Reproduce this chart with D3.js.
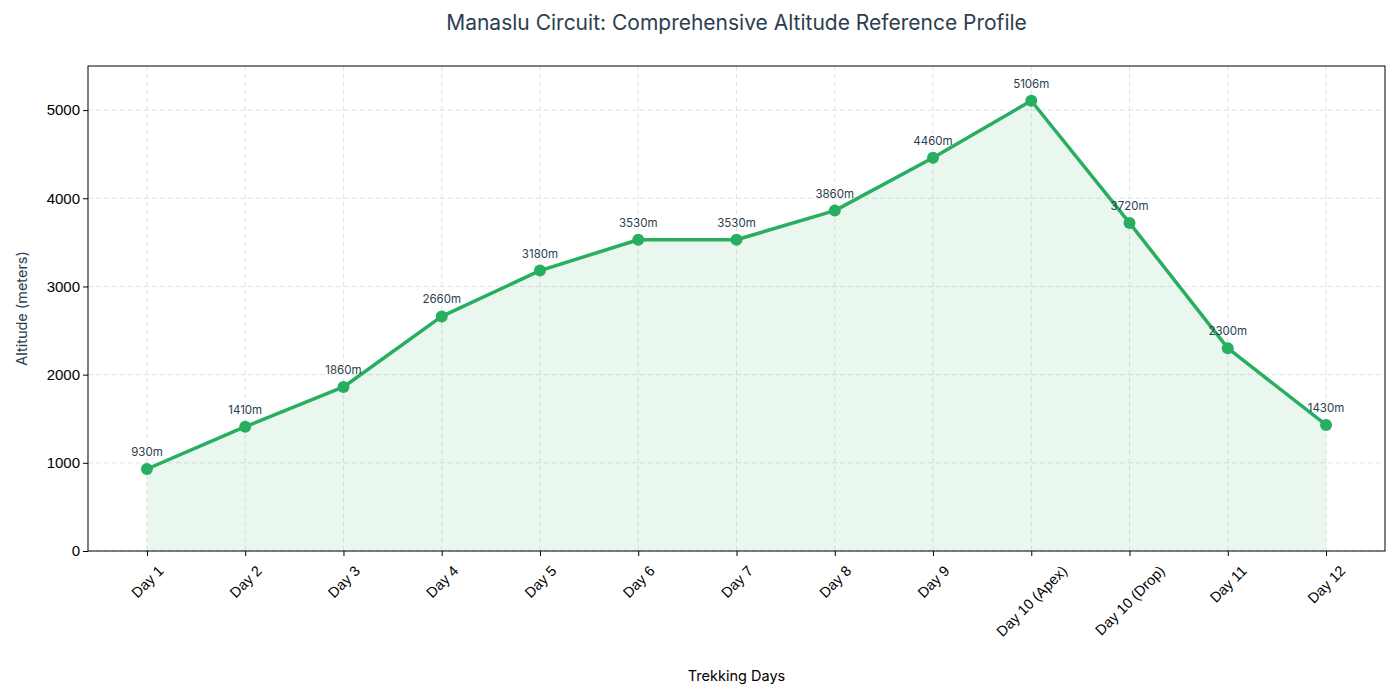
<!DOCTYPE html>
<html>
<head>
<meta charset="utf-8">
<script src="https://cdn.jsdelivr.net/npm/d3@7"></script>
<style>
  body { margin: 0; background: #fff; }
  svg { font-family: Inter, "Noto Sans", sans-serif; }
</style>
</head>
<body>
<div id="chart"></div>
<script>
const days = ["Day 1", "Day 2", "Day 3", "Day 4", "Day 5", "Day 6", "Day 7", "Day 8", "Day 9",
    "Day 10 (Apex)", "Day 10 (Drop)", "Day 11", "Day 12"];
const altitudes = [930, 1410, 1860, 2660, 3180, 3530, 3530, 3860, 4460, 5106, 3720, 2300, 1430];
const yTicks = [0, 1000, 2000, 3000, 4000, 5000];

const width = 1400, height = 700;
const margin = { top: 66, right: 15, bottom: 149, left: 88 };
const boundedWidth = width - margin.left - margin.right;
const boundedHeight = height - margin.top - margin.bottom;

const data = days.map((d, i) => ({ day: d, alt: altitudes[i] }));

const svg = d3.select('#chart').append('svg')
    .attr('width', width)
    .attr('height', height);

const viz = svg.append('g')
    .attr('transform', `translate(${margin.left},${margin.top})`);

const xScale = d3.scalePoint().domain(days).range([0, boundedWidth]).padding(0.6);
const yScale = d3.scaleLinear().domain([0, 5500]).range([boundedHeight, 0]);

// grid
viz.append('g').selectAll('line.vg')
    .data(days)
    .join('line')
    .attr('x1', d => xScale(d)).attr('x2', d => xScale(d))
    .attr('y1', 0).attr('y2', boundedHeight)
    .attr('stroke', '#dcdcdc').attr('stroke-dasharray', '5,3').attr('stroke-width', 0.8);
viz.append('g').selectAll('line.hg')
    .data(yTicks)
    .join('line')
    .attr('x1', 0).attr('x2', boundedWidth)
    .attr('y1', d => yScale(d)).attr('y2', d => yScale(d))
    .attr('stroke', '#dcdcdc').attr('stroke-dasharray', '5,3').attr('stroke-width', 0.8);

// area fill
const area = d3.area()
    .x(d => xScale(d.day))
    .y0(yScale(0))
    .y1(d => yScale(d.alt));
viz.append('path')
    .datum(data)
    .attr('d', area)
    .attr('fill', '#27ae60')
    .attr('fill-opacity', 0.1);

// line
const line = d3.line()
    .x(d => xScale(d.day))
    .y(d => yScale(d.alt));
viz.append('path')
    .datum(data)
    .attr('d', line)
    .attr('fill', 'none')
    .attr('stroke', '#27ae60')
    .attr('stroke-width', 3.5)
    .attr('stroke-linejoin', 'round');

viz.selectAll('circle')
    .data(data)
    .join('circle')
    .attr('cx', d => xScale(d.day))
    .attr('cy', d => yScale(d.alt))
    .attr('r', 6)
    .attr('fill', '#27ae60');

viz.selectAll('text.ann')
    .data(data)
    .join('text')
    .attr('class', 'ann')
    .attr('x', d => xScale(d.day))
    .attr('y', d => yScale(d.alt) - 13)
    .attr('text-anchor', 'middle')
    .attr('font-size', 11.5)
    .attr('fill', '#2c3e50')
    .text(d => d.alt + 'm');

// axes
const xAxis = viz.append('g')
    .attr('transform', `translate(0,${boundedHeight})`)
    .call(d3.axisBottom(xScale).tickSize(5).tickSizeOuter(0));
xAxis.select('.domain').remove();
xAxis.selectAll('line').attr('stroke', '#000');
xAxis.selectAll('text')
    .attr('font-size', 14.5)
    .attr('fill', '#000')
    .attr('text-anchor', 'middle')
    .attr('dy', null)
    .attr('dominant-baseline', 'central')
    .each(function() {
        const t = d3.select(this);
        const len = this.getComputedTextLength();
        const off = (len + 15) * Math.SQRT1_2 / 2 + 12;
        t.attr('y', 0).attr('transform', `translate(0,${off}) rotate(-45)`);
    });

const yAxis = viz.append('g')
    .call(d3.axisLeft(yScale).tickValues(yTicks).tickFormat(d3.format('d')).tickSize(5).tickSizeOuter(0));
yAxis.select('.domain').remove();
yAxis.selectAll('line').attr('stroke', '#000');
yAxis.selectAll('text').attr('font-size', 15).attr('fill', '#000');

// frame
viz.append('rect')
    .attr('width', boundedWidth).attr('height', boundedHeight)
    .attr('fill', 'none').attr('stroke', '#000').attr('stroke-width', 1);

// titles
svg.append('text')
    .attr('x', margin.left + boundedWidth / 2).attr('y', 30)
    .attr('text-anchor', 'middle')
    .attr('font-size', 21)
    .attr('fill', '#2c3e50')
    .text('Manaslu Circuit: Comprehensive Altitude Reference Profile');

svg.append('text')
    .attr('x', margin.left + boundedWidth / 2).attr('y', 681)
    .attr('text-anchor', 'middle')
    .attr('font-size', 14.5)
    .attr('fill', '#000')
    .text('Trekking Days');

svg.append('text')
    .attr('transform', `translate(27,${margin.top + boundedHeight / 2}) rotate(-90)`)
    .attr('text-anchor', 'middle')
    .attr('font-size', 14.5)
    .attr('fill', '#2c3e50')
    .text('Altitude (meters)');
</script>
</body>
</html>
